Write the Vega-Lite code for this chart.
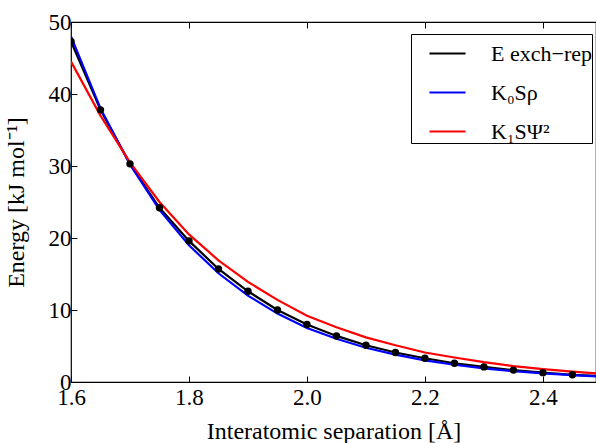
{
"$schema": "https://vega.github.io/schema/vega-lite/v6.json",
"width": 525,
"height": 360,
"autosize": {"type": "none"},
"padding": {"left": 71, "top": 22, "right": 0, "bottom": 61},
"background": "white",
"config": {
  "font": "Liberation Serif",
  "view": {"stroke": "black", "strokeWidth": 1.2},
  "axis": {"grid": false, "domain": false, "tickColor": "black", "tickSize": -6, "tickWidth": 1, "labelFlush": false, "labelOverlap": false, "labelFont": "Liberation Serif", "labelFontSize": 23, "labelColor": "black", "titleFont": "Liberation Serif", "titleFontSize": 24, "titleFontWeight": "normal", "titleColor": "black"}
},
"data": {"values": [
  {"x": 1.60, "E": 47.3, "s": "E exch−rep"},
  {"x": 1.65, "E": 37.8, "s": "E exch−rep"},
  {"x": 1.70, "E": 30.3, "s": "E exch−rep"},
  {"x": 1.75, "E": 24.2, "s": "E exch−rep"},
  {"x": 1.80, "E": 19.6, "s": "E exch−rep"},
  {"x": 1.85, "E": 15.7, "s": "E exch−rep"},
  {"x": 1.90, "E": 12.6, "s": "E exch−rep"},
  {"x": 1.95, "E": 10.0, "s": "E exch−rep"},
  {"x": 2.00, "E": 8.0, "s": "E exch−rep"},
  {"x": 2.05, "E": 6.4, "s": "E exch−rep"},
  {"x": 2.10, "E": 5.1, "s": "E exch−rep"},
  {"x": 2.15, "E": 4.1, "s": "E exch−rep"},
  {"x": 2.20, "E": 3.3, "s": "E exch−rep"},
  {"x": 2.25, "E": 2.6, "s": "E exch−rep"},
  {"x": 2.30, "E": 2.1, "s": "E exch−rep"},
  {"x": 2.35, "E": 1.65, "s": "E exch−rep"},
  {"x": 2.40, "E": 1.3, "s": "E exch−rep"},
  {"x": 2.45, "E": 1.0, "s": "E exch−rep"},
  {"x": 2.50, "E": 0.8, "s": "E exch−rep"},
  {"x": 1.60, "E": 48.0, "s": "K₀Sρ"},
  {"x": 1.65, "E": 38.0, "s": "K₀Sρ"},
  {"x": 1.70, "E": 30.2, "s": "K₀Sρ"},
  {"x": 1.75, "E": 23.9, "s": "K₀Sρ"},
  {"x": 1.80, "E": 19.0, "s": "K₀Sρ"},
  {"x": 1.85, "E": 15.1, "s": "K₀Sρ"},
  {"x": 1.90, "E": 12.0, "s": "K₀Sρ"},
  {"x": 1.95, "E": 9.5, "s": "K₀Sρ"},
  {"x": 2.00, "E": 7.5, "s": "K₀Sρ"},
  {"x": 2.05, "E": 6.0, "s": "K₀Sρ"},
  {"x": 2.10, "E": 4.75, "s": "K₀Sρ"},
  {"x": 2.15, "E": 3.8, "s": "K₀Sρ"},
  {"x": 2.20, "E": 3.0, "s": "K₀Sρ"},
  {"x": 2.25, "E": 2.4, "s": "K₀Sρ"},
  {"x": 2.30, "E": 1.9, "s": "K₀Sρ"},
  {"x": 2.35, "E": 1.5, "s": "K₀Sρ"},
  {"x": 2.40, "E": 1.2, "s": "K₀Sρ"},
  {"x": 2.45, "E": 0.95, "s": "K₀Sρ"},
  {"x": 2.50, "E": 0.75, "s": "K₀Sρ"},
  {"x": 1.60, "E": 44.5, "s": "K₁SΨ²"},
  {"x": 1.65, "E": 37.0, "s": "K₁SΨ²"},
  {"x": 1.70, "E": 30.5, "s": "K₁SΨ²"},
  {"x": 1.75, "E": 25.0, "s": "K₁SΨ²"},
  {"x": 1.80, "E": 20.5, "s": "K₁SΨ²"},
  {"x": 1.85, "E": 16.9, "s": "K₁SΨ²"},
  {"x": 1.90, "E": 13.9, "s": "K₁SΨ²"},
  {"x": 1.95, "E": 11.4, "s": "K₁SΨ²"},
  {"x": 2.00, "E": 9.2, "s": "K₁SΨ²"},
  {"x": 2.05, "E": 7.6, "s": "K₁SΨ²"},
  {"x": 2.10, "E": 6.2, "s": "K₁SΨ²"},
  {"x": 2.15, "E": 5.1, "s": "K₁SΨ²"},
  {"x": 2.20, "E": 4.1, "s": "K₁SΨ²"},
  {"x": 2.25, "E": 3.4, "s": "K₁SΨ²"},
  {"x": 2.30, "E": 2.75, "s": "K₁SΨ²"},
  {"x": 2.35, "E": 2.2, "s": "K₁SΨ²"},
  {"x": 2.40, "E": 1.8, "s": "K₁SΨ²"},
  {"x": 2.45, "E": 1.45, "s": "K₁SΨ²"},
  {"x": 2.50, "E": 1.15, "s": "K₁SΨ²"}
]},
"resolve": {"axis": {"x": "independent"}},
"layer": [
  {
    "mark": {"type": "line", "strokeWidth": 2.2, "clip": true},
    "encoding": {
      "x": {"field": "x", "type": "quantitative", "scale": {"domain": [1.6, 2.49], "nice": false, "zero": false},
            "axis": {"values": [1.6, 1.8, 2.0, 2.2, 2.4], "format": ".1f", "labelPadding": 10, "title": "Interatomic separation [Å]", "titlePadding": 10}},
      "y": {"field": "E", "type": "quantitative", "scale": {"domain": [0, 50], "nice": false},
            "axis": {"values": [0, 10, 20, 30, 40, 50], "labelPadding": 6, "title": "Energy [kJ mol⁻¹]", "titlePadding": 20}},
      "color": {"field": "s", "type": "nominal",
                "scale": {"domain": ["E exch−rep", "K₀Sρ", "K₁SΨ²"], "range": ["black", "blue", "red"]},
                "legend": {"orient": "none", "legendX": 340, "legendY": 12, "title": null, "strokeColor": "black", "fillColor": "white", "padding": 0,
                           "labelFont": "Liberation Serif", "labelFontSize": 22, "labelColor": "black", "symbolType": "stroke",
                           "symbolStrokeWidth": 2.2, "symbolSize": 1300, "symbolOffset": 17, "rowPadding": 8, "labelOffset": 24, "cornerRadius": 0}}
    }
  },
  {
    "transform": [{"filter": "datum.s === 'E exch−rep'"}],
    "mark": {"type": "circle", "size": 55, "color": "black", "opacity": 1, "clip": true},
    "encoding": {
      "x": {"field": "x", "type": "quantitative", "scale": {"domain": [1.6, 2.49], "nice": false, "zero": false},
            "axis": {"orient": "top", "values": [1.6, 1.8, 2.0, 2.2, 2.4], "labels": false, "title": null}},
      "y": {"field": "E", "type": "quantitative"}
    }
  }
]
}
